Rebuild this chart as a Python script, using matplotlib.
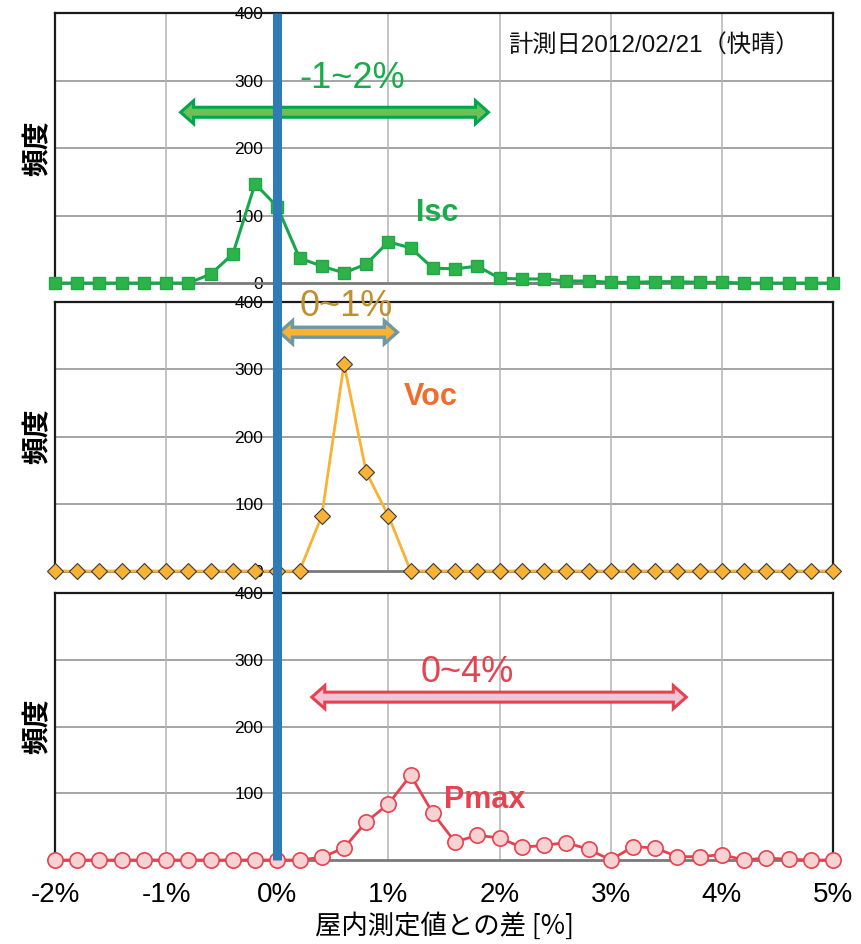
import numpy as np
import matplotlib
matplotlib.use('Agg')
import matplotlib.pyplot as plt
from matplotlib import transforms, font_manager
from matplotlib.patches import Polygon
from matplotlib.lines import Line2D

# ---------------- data ----------------
x_pct = [-2.0, -1.8, -1.6, -1.4, -1.2, -1.0, -0.8, -0.6, -0.4, -0.2,
         0.0, 0.2, 0.4, 0.6, 0.8, 1.0, 1.2, 1.4, 1.6, 1.8,
         2.0, 2.2, 2.4, 2.6, 2.8, 3.0, 3.2, 3.4, 3.6, 3.8,
         4.0, 4.2, 4.4, 4.6, 4.8, 5.0]
isc = [0, 0, 0, 0, 0, 0, 0, 13, 43, 147,
       113, 37, 25, 15, 28, 61, 52, 22, 21, 25,
       7, 6, 6, 3, 3, 1, 1, 2, 2, 1,
       1, 0, 0, 0, 0, 0]
voc = [0, 0, 0, 0, 0, 0, 0, 0, 0, 0,
       0, 0, 82, 308, 147, 82, 0, 0, 0, 0,
       0, 0, 0, 0, 0, 0, 0, 0, 0, 0,
       0, 0, 0, 0, 0, 0]
pmax = [0, 0, 0, 0, 0, 0, 0, 0, 0, 0,
        0, 0, 4, 18, 57, 84, 127, 70, 27, 37,
        33, 19, 22, 26, 16, 0, 20, 18, 5, 5,
        8, 0, 3, 1, 0, 0]
x_ticks = [-2, -1, 0, 1, 2, 3, 4, 5]
x_tick_labels = ['-2%', '-1%', '0%', '1%', '2%', '3%', '4%', '5%']
y_ticks = [0, 100, 200, 300, 400]
series_names = ['Isc', 'Voc', 'Pmax']
range_texts = ['-1~2%', '0~1%', '0~4%']
range_spans = [(-0.87, 1.90), (0.02, 1.08), (0.31, 3.68)]
date_text = '計測日2012/02/21（快晴）'
y_label = '頻度'
x_label = '屋内測定値との差 [%]'

# ---------------- fonts ----------------
names = {f.name for f in font_manager.fontManager.ttflist}
narrow = 'Liberation Sans Narrow' if 'Liberation Sans Narrow' in names else 'Liberation Sans'
plt.rcParams['font.family'] = ['Liberation Sans', 'Noto Sans CJK JP']
CJK = ['Noto Sans CJK JP', 'Liberation Sans']
MIX = ['Liberation Sans', 'Noto Sans CJK JP']

fig = plt.figure(figsize=(8.61, 9.44), dpi=100)
L, W = 0.0639, 0.9036
rects = [(L, 0.7002, W, 0.2860), (L, 0.3951, W, 0.2850), (L, 0.0890, W, 0.2828)]
axes = [fig.add_axes(r) for r in rects]


def style(ax, show_x):
    ax.set_xlim(-2, 5)
    ax.set_ylim(0, 400)
    ax.set_facecolor('white')
    ax.spines['left'].set_position(('data', 0))
    ax.spines['left'].set_visible(False)
    for s in ('top', 'right'):
        ax.spines[s].set_color('#1a1a1a')
        ax.spines[s].set_linewidth(1.6)
    ax.spines['bottom'].set_color('#7a7a7a')
    ax.spines['bottom'].set_linewidth(2.0)
    ax.plot([0, 0], [0, 1], transform=ax.transAxes, color='#1a1a1a', lw=1.6,
            clip_on=False, zorder=3)
    ax.set_yticks(y_ticks)
    ax.set_yticklabels([str(v) for v in y_ticks], fontsize=12.5)
    ax.tick_params(axis='y', length=0, pad=10)
    ax.set_xticks(x_ticks)
    if show_x:
        ax.set_xticklabels(x_tick_labels, fontsize=20)
    else:
        ax.set_xticklabels([])
    ax.tick_params(axis='x', length=0, pad=16)
    for t in y_ticks[1:-1]:
        ax.axhline(t, color='#8c8c8c', lw=1.1, zorder=0)
    for t in x_ticks[1:-1]:
        ax.axvline(t, color='#b4b4b4', lw=1.1, zorder=0)
    ax.set_ylabel(y_label, fontsize=20, fontweight='bold', family=CJK)
    ax.yaxis.set_label_coords(-0.004, 0.5)


def double_arrow(ax, x0, x1, y, fc, ec, head_len=13, head_w=23, shaft_w=10, lw=2.2):
    px0, py = ax.transData.transform((x0, y))
    px1, _ = ax.transData.transform((x1, y))
    pts_px = [(px0, py), (px0 + head_len, py + head_w / 2), (px0 + head_len, py + shaft_w / 2),
              (px1 - head_len, py + shaft_w / 2), (px1 - head_len, py + head_w / 2), (px1, py),
              (px1 - head_len, py - head_w / 2), (px1 - head_len, py - shaft_w / 2),
              (px0 + head_len, py - shaft_w / 2), (px0 + head_len, py - head_w / 2)]
    pts = ax.transData.inverted().transform(pts_px)
    ax.add_patch(Polygon(pts, closed=True, fc=fc, ec=ec, lw=lw, joinstyle='miter', zorder=6))


for i, ax in enumerate(axes):
    style(ax, i == 2)

# series
axes[0].plot(x_pct, isc, color='#14a84b', lw=2.2, marker='s', ms=8.5,
             mfc='#2db34a', mec='#22a748', mew=1, clip_on=False, zorder=5)
axes[1].plot(x_pct, voc, color='#f9b233', lw=2.0, marker='D', ms=8,
             mfc='#f9b233', mec='#3a3a3a', mew=0.8, clip_on=False, zorder=5)
axes[2].plot(x_pct, pmax, color='#e8414f', lw=2.0, marker='o', ms=11,
             mfc='#f7d2d3', mec='#e8414f', mew=1.2, clip_on=False, zorder=5)

# series name labels
name_style = dict(fontsize=22, fontweight='bold', family=[narrow, 'Liberation Sans'],
                  ha='center', va='center', zorder=7)
axes[0].text(1.44, 104, series_names[0], color='#1aab4b', **name_style)
axes[1].text(1.38, 258, series_names[1], color='#f26c2c', **name_style)
axes[2].text(1.87, 90, series_names[2], color='#e8414f', **name_style)

# range arrows + texts
fig.canvas.draw()
double_arrow(axes[0], *range_spans[0], 253, fc='#6dbf57', ec='#00a64f')
double_arrow(axes[1], *range_spans[1], 355, fc='#f9b233', ec='#6e98a4', lw=2.4)
double_arrow(axes[2], *range_spans[2], 244, fc='#f2c4d6', ec='#e8414f')
range_style = dict(fontsize=26, ha='center', va='center', zorder=7)
axes[0].text(0.67, 303, range_texts[0], color='#1aab4b', **range_style)
axes[1].text(0.62, 393, range_texts[1], color='#c0902e', **range_style)
axes[2].text(1.71, 281, range_texts[2], color='#e8414f', **range_style)

# date annotation
axes[0].text(0.9576, 0.876, date_text, transform=axes[0].transAxes, fontsize=17.5,
             family=MIX, ha='right', va='center', color='#111111', zorder=7)

# x label
axes[2].set_xlabel(x_label, fontsize=19, family=CJK, labelpad=3)

# blue 0% reference line spanning all panels
trans = transforms.blended_transform_factory(axes[0].transData, fig.transFigure)
y_top = rects[0][1] + rects[0][3]
y_bot = rects[2][1]
fig.add_artist(Line2D([0, 0], [y_bot, y_top], transform=trans, color='#2e7bb6',
                      lw=6.5, solid_capstyle='butt', zorder=10))

fig.savefig('out.png', dpi=100)
